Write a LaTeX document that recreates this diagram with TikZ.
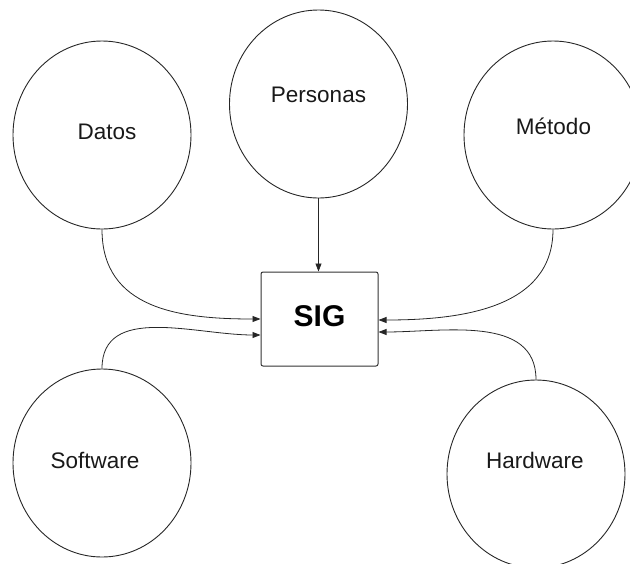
\documentclass[tikz,border=0pt]{standalone}
\usepackage{fontspec}
\setmainfont{Liberation Sans}
\usetikzlibrary{shapes.geometric,arrows.meta}
\begin{document}
\begin{tikzpicture}[x=1pt,y=-1pt,
  bubble/.style={ellipse,draw=black!85,line width=0.9pt,minimum width=178pt,minimum height=188pt,inner sep=0pt},
  lbl/.style={anchor=base,font=\fontsize{22.5}{27}\selectfont,text=black!90,inner sep=0pt},
  core/.style={draw=black!80,line width=1pt,rounded corners=2pt,minimum width=117pt,minimum height=94pt,inner sep=0pt},
  feed/.style={draw=black!85,line width=0.8pt,-{Triangle[length=8pt,width=6pt]}}]
\useasboundingbox (0,0) rectangle (630,563);
\clip (0,0) rectangle (630,563);

% outer components
\node[bubble] (datos)    at (102,135)   {};
\node[bubble] (personas) at (318.5,104) {};
\node[bubble] (metodo)   at (553,135)   {};
\node[bubble] (software) at (102,463)   {};
\node[bubble] (hardware) at (536,474)   {};

\node[lbl] (tdatos)    at (107,139)   {Datos};
\node[lbl] (tpersonas) at (318.5,102) {Personas};
\node[lbl] (tmetodo)   at (553.5,134) {Método};
\node[lbl] (tsoftware) at (95,468)    {Software};
\node[lbl] (thardware) at (535,468)   {Hardware};

% central system
\node[core] (sig) at (319.5,319) {};
\node[anchor=base,inner sep=0pt,font=\bfseries\fontsize{30}{36}\selectfont] (tsig) at (319.5,326) {SIG};

% connectors into the system
\draw[feed] (personas.south) -- (personas.south |- sig.north);
\draw[feed] (datos.south) .. controls +(0,80) and +(-80,0) .. (sig.west);
\draw[feed] (software.north) .. controls +(0,-65) and +(-65,0) .. ([yshift=-16pt]sig.west);
\draw[feed] (metodo.south) .. controls +(0,80) and +(80,0) .. ([yshift=-1pt]sig.east);
\draw[feed] (hardware.north) .. controls +(0,-65) and +(65,0) .. ([yshift=-13pt]sig.east);
\end{tikzpicture}
\end{document}
